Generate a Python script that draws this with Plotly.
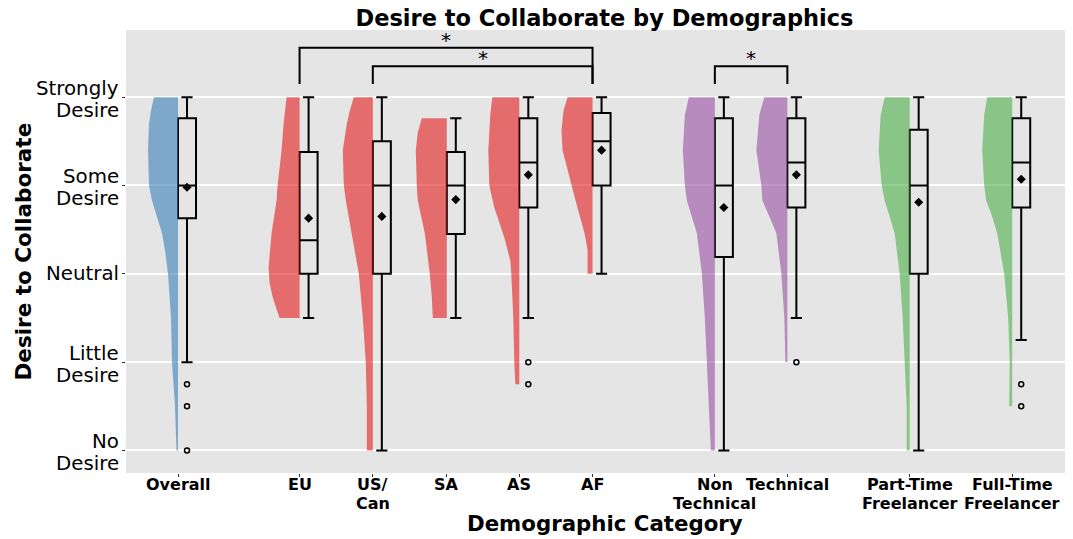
import plotly.graph_objects as go

# ---------------- data ----------------
categories = ["Overall", "EU", "US/\nCan", "SA", "AS", "AF",
              "Non\nTechnical", "Technical", "Part-Time\nFreelancer", "Full-Time\nFreelancer"]
positions = [1, 2.66, 3.66, 4.67, 5.66, 6.66, 8.33, 9.32, 10.99, 12.39]
groups = ["overall", "region", "region", "region", "region", "region",
          "role", "role", "work", "work"]

lower_whisker = [2.0, 2.5, 1.0, 2.5, 2.5, 3.0, 1.0, 2.5, 1.0, 2.25]
q1 =            [3.63, 3.0, 3.0, 3.45, 3.75, 4.0, 3.19, 3.75, 3.0, 3.75]
median =        [4.0, 3.38, 4.0, 4.0, 4.26, 4.5, 4.0, 4.26, 4.0, 4.26]
q3 =            [4.76, 4.38, 4.5, 4.38, 4.76, 4.82, 4.76, 4.76, 4.63, 4.76]
upper_whisker = [5.0, 5.0, 5.0, 4.76, 5.0, 5.0, 5.0, 5.0, 5.0, 5.0]
means =         [3.98, 3.63, 3.65, 3.84, 4.12, 4.40, 3.75, 4.12, 3.81, 4.07]
outliers = [[1.75, 1.5, 1.0], [], [], [], [2.0, 1.75], [], [], [2.0], [], [1.75, 1.5]]

# half-violin density profiles (level, relative density)
density_levels = [
    [5, 4.85, 4.7, 4.4, 4.0, 3.83, 3.65, 3.46, 3.27, 3.0, 2.5, 2.0, 1.5, 1.0],
    [5, 4.7, 4.4, 4.0, 3.83, 3.46, 3.25, 3.07, 2.9, 2.74, 2.6, 2.5],
    [5, 4.85, 4.7, 4.4, 4.0, 3.83, 3.46, 3.0, 2.5, 2.0, 1.5, 1.0],
    [4.76, 4.6, 4.4, 4.0, 3.83, 3.46, 3.0, 2.74, 2.5],
    [5, 4.8, 4.4, 4.0, 3.75, 3.41, 3.15, 3.0, 2.5, 2.0, 1.75],
    [5, 4.85, 4.63, 4.4, 4.0, 3.83, 3.46, 3.27, 3.0],
    [5, 4.8, 4.4, 4.0, 3.83, 3.46, 3.0, 2.5, 2.0, 1.5, 1.0],
    [5, 4.8, 4.4, 4.0, 3.83, 3.65, 3.46, 3.0, 2.5, 2.0],
    [5, 4.8, 4.4, 4.0, 3.83, 3.46, 3.0, 2.5, 2.0, 1.5, 1.0],
    [5, 4.8, 4.4, 4.0, 3.83, 3.65, 3.46, 3.0, 2.5, 2.0, 1.5],
]
density_values = [
    [24, 27, 29, 30, 29, 26, 21, 16, 13, 10, 7, 6, 3, 1.5],
    [13, 16, 18, 22, 23, 28, 30, 31, 30, 27, 23, 20],
    [19, 23, 26, 30, 29, 27, 21, 14, 10, 7, 6, 6],
    [25, 29, 31, 30, 29, 22, 17, 15, 14],
    [27, 29, 31, 30, 25, 15, 9, 8, 6, 5, 4],
    [25, 29, 31, 30, 21, 17, 8, 5, 5],
    [26, 30, 32, 30, 28, 18, 13, 10, 8, 6, 4],
    [23, 28, 31, 26, 25, 18, 11, 6, 3, 2],
    [25, 29, 31, 28, 25, 15, 10, 7, 5, 3, 3],
    [25, 28, 30, 28, 26, 20, 15, 8, 4, 2.5, 3],
]

y_tickvals = [1, 2, 3, 4, 5]
y_ticktext = ["No\nDesire", "Little\nDesire", "Neutral", "Some\nDesire", "Strongly\nDesire"]

# significance brackets: (left index, right index, height)
brackets = [(1, 5, 5.56), (2, 5, 5.35), (6, 7, 5.35)]
bracket_foot = 5.15
bracket_label = "*"

group_colors = {
    "overall": "rgba(55,126,184,0.6)",
    "region": "rgba(228,26,28,0.6)",
    "role": "rgba(152,78,163,0.6)",
    "work": "rgba(77,175,74,0.6)",
}

FONT = "DejaVu Sans"
box_w = 0.246
box_off = 0.123
violin_max = 0.437
dens_max = 32.0

# the page body adds an 8px offset, so the figure is sized to compensate
FIG_W, FIG_H = 1065, 531
PLOT_W = 947

fig = go.Figure()

# half violins
for i, p in enumerate(positions):
    lv = density_levels[i]
    dv = density_values[i]
    xs = [p] + [p - d / dens_max * violin_max for d in dv] + [p, p]
    ys = [lv[0]] + lv + [lv[-1], lv[0]]
    fig.add_trace(go.Scatter(
        x=xs, y=ys, mode="lines", fill="toself",
        fillcolor=group_colors[groups[i]],
        line=dict(width=0),
        hoverinfo="skip", showlegend=False))

# boxes
fig.add_trace(go.Box(
    x=[p + box_off for p in positions],
    q1=q1, median=median, q3=q3,
    lowerfence=lower_whisker, upperfence=upper_whisker,
    width=box_w, whiskerwidth=0.62,
    fillcolor="rgba(0,0,0,0)",
    line=dict(color="black", width=2),
    boxpoints=False, showlegend=False))

# outliers
ox, oy = [], []
for i, p in enumerate(positions):
    for v in outliers[i]:
        ox.append(p + box_off)
        oy.append(v)
fig.add_trace(go.Scatter(
    x=ox, y=oy, mode="markers",
    marker=dict(symbol="circle-open", size=5, color="black", line=dict(width=1.5)),
    showlegend=False, hoverinfo="skip"))

# means
fig.add_trace(go.Scatter(
    x=[p + box_off for p in positions], y=means, mode="markers",
    marker=dict(symbol="diamond", size=7, color="black"),
    showlegend=False))

# brackets
for a, b, h in brackets:
    xa, xb = positions[a], positions[b]
    fig.add_trace(go.Scatter(
        x=[xa, xa, xb, xb], y=[bracket_foot, h, h, bracket_foot],
        mode="lines", line=dict(color="black", width=2),
        showlegend=False, hoverinfo="skip"))
    fig.add_annotation(x=(xa + xb) / 2, y=h + 0.09, text=bracket_label,
                       showarrow=False, yanchor="middle",
                       font=dict(family=FONT, size=20, color="black"))

# x tick labels (one annotation per line for tight line spacing)
for p, lab in zip(positions, categories):
    for k, line in enumerate(lab.split("\n")):
        fig.add_annotation(x=p, y=0, xref="x", yref="paper", text="<b>" + line + "</b>",
                           showarrow=False, xanchor="center", yanchor="middle",
                           yshift=-11.5 - 18.5 * k, borderpad=0,
                           font=dict(family=FONT, size=16, color="black"))

# y tick labels
for v, lab in zip(y_tickvals, y_ticktext):
    lines = lab.split("\n")
    shifts = [0] if len(lines) == 1 else [9, -13]
    for line, s in zip(lines, shifts):
        fig.add_annotation(x=0, y=v, xref="paper", yref="y", text=line,
                           showarrow=False, xanchor="right", yanchor="middle",
                           xshift=-6, yshift=s, borderpad=0,
                           font=dict(family=FONT, size=19.8, color="black"))

# axis titles
fig.add_annotation(x=0.5 + 5 / PLOT_W, y=-0.113, xref="paper", yref="paper",
                   text="<b>Demographic Category</b>", showarrow=False,
                   yanchor="middle", font=dict(family=FONT, size=21.3, color="black"))
fig.add_annotation(x=-103 / PLOT_W, y=0.5, xref="paper", yref="paper",
                   text="<b>Desire to Collaborate</b>", showarrow=False, textangle=-90,
                   xanchor="center", yanchor="middle",
                   font=dict(family=FONT, size=21.5, color="black"))

fig.update_layout(
    width=FIG_W, height=FIG_H,
    margin=dict(l=118, r=0, t=22, b=FIG_H - 465, pad=0),
    paper_bgcolor="white", plot_bgcolor="#E5E5E5",
    font=dict(family=FONT, color="black"),
    title=dict(text="<b>Desire to Collaborate by Demographics</b>",
               x=0.5 + 5 / PLOT_W, xref="paper", y=1 - 10.5 / FIG_H, yref="container",
               xanchor="center", yanchor="middle",
               font=dict(family=FONT, size=22.5, color="black")),
    boxmode="overlay",
    showlegend=False,
)
fig.update_xaxes(
    range=[0.29, 13.22], tickvals=positions, showticklabels=False,
    automargin=False,
    showgrid=False, zeroline=False, ticks="outside", ticklen=3,
    tickcolor="#333333", tickwidth=1, showline=False)
fig.update_yaxes(
    range=[0.745, 5.76], tickvals=y_tickvals, showticklabels=False, automargin=False,
    showgrid=True, gridcolor="white", gridwidth=1.5, zeroline=False,
    ticks="outside", ticklen=3, tickcolor="#333333", tickwidth=1, showline=False)

fig.write_html("out.html")
